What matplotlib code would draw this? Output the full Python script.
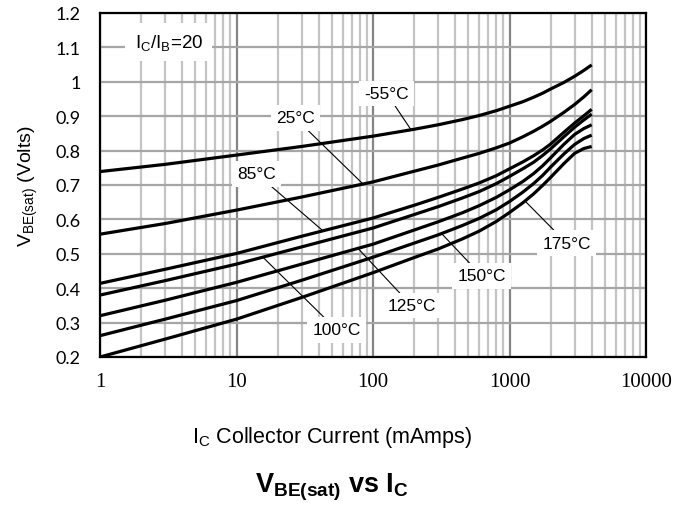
import numpy as np
import matplotlib
matplotlib.use("Agg")
import matplotlib.pyplot as plt

plt.rcParams['font.family'] = ['Liberation Sans', 'DejaVu Sans']
plt.rcParams['mathtext.fontset'] = 'custom'
plt.rcParams['mathtext.rm'] = 'Liberation Sans'
plt.rcParams['mathtext.it'] = 'Liberation Sans:italic'
plt.rcParams['mathtext.bf'] = 'Liberation Sans:bold'

# collector current (mA) and V_BE(sat) per junction temperature
ic_ma = [1, 3, 10, 30, 100, 200, 300, 450, 600, 800, 1000, 1250, 1500, 1750,
         2000, 2500, 3000, 3500, 4000]

vbe_m55 = [0.739, 0.760, 0.787, 0.812, 0.842, 0.862, 0.875, 0.890, 0.902, 0.916,
           0.929, 0.942, 0.955, 0.967, 0.979, 0.998, 1.016, 1.033, 1.049]
vbe_25 = [0.557, 0.588, 0.627, 0.665, 0.709, 0.740, 0.758, 0.778, 0.792, 0.808,
          0.822, 0.840, 0.856, 0.871, 0.885, 0.911, 0.934, 0.956, 0.977]
vbe_85 = [0.414, 0.455, 0.501, 0.551, 0.604, 0.641, 0.664, 0.688, 0.706, 0.727,
          0.747, 0.767, 0.785, 0.802, 0.819, 0.853, 0.880, 0.901, 0.920]
vbe_100 = [0.380, 0.422, 0.470, 0.520, 0.575, 0.614, 0.637, 0.662, 0.681, 0.704,
           0.725, 0.747, 0.766, 0.786, 0.805, 0.840, 0.868, 0.889, 0.906]
vbe_125 = [0.320, 0.365, 0.417, 0.470, 0.528, 0.569, 0.593, 0.619, 0.640, 0.664,
           0.686, 0.710, 0.733, 0.756, 0.779, 0.818, 0.847, 0.864, 0.875]
vbe_150 = [0.262, 0.310, 0.364, 0.423, 0.490, 0.531, 0.555, 0.582, 0.603, 0.628,
           0.652, 0.679, 0.704, 0.728, 0.752, 0.790, 0.818, 0.835, 0.845]
vbe_175 = [0.200, 0.252, 0.310, 0.373, 0.445, 0.489, 0.514, 0.543, 0.566, 0.594,
           0.620, 0.648, 0.674, 0.699, 0.722, 0.762, 0.792, 0.806, 0.812]

curves = [vbe_m55, vbe_25, vbe_85, vbe_100, vbe_125, vbe_150, vbe_175]
temp_labels = ['-55°C', '25°C', '85°C', '100°C', '125°C', '150°C', '175°C']
# where each label sits (x, y) and where its leader touches the curve (x)
label_pos = [(126, 0.966), (26.9, 0.895), (14.1, 0.732), (54.2, 0.279),
             (192, 0.349), (625, 0.436), (2624, 0.531)]
leader_x = [190, 84.5, 43, 15.6, 77.6, 318, 1299]

x_ticks = [1, 10, 100, 1000, 10000]
y_ticks = [0.2, 0.3, 0.4, 0.5, 0.6, 0.7, 0.8, 0.9, 1.0, 1.1, 1.2]
y_ticklabels = ['0.2', '0.3', '0.4', '0.5', '0.6', '0.7', '0.8', '0.9', '1', '1.1', '1.2']

fig = plt.figure(figsize=(6.74, 5.10), dpi=100)
ax = fig.add_axes([100 / 674, 1 - 358 / 510, 546 / 674, 344 / 510])

ax.set_xscale('log')
ax.set_xlim(1, 10000)
ax.set_ylim(0.2, 1.2)

# grid: light minor decades, darker decade lines, gray horizontals
ax.set_axisbelow(True)
ax.grid(True, which='minor', axis='x', color='#c4c4c4', lw=1.6)
ax.grid(True, which='major', axis='x', color='#858585', lw=1.6)
ax.grid(True, which='major', axis='y', color='#a6a6a6', lw=1.6)

for v in curves:
    ax.plot(ic_ma, v, color='black', lw=2.3, solid_capstyle='butt', zorder=2)

log_ic = np.log10(ic_ma)
for v, txt, pos, lx in zip(curves, temp_labels, label_pos, leader_x):
    ly = np.interp(np.log10(lx), log_ic, v)
    ax.annotate(txt, xy=(lx, ly), xytext=pos, ha='center', va='center',
                fontsize=12.5, zorder=4,
                bbox=dict(boxstyle='square,pad=0.3', fc='white', ec='none'),
                arrowprops=dict(arrowstyle='-', color='black', lw=0.8,
                                shrinkA=0, shrinkB=0))

ax.text(3.2, 1.116, r'I$_\mathregular{C}$/I$_\mathregular{B}$=20', ha='center', va='center',
        fontsize=13.5, zorder=4,
        bbox=dict(boxstyle='square,pad=0.5', fc='white', ec='none'))

ax.set_xticks(x_ticks)
ax.set_xticklabels([str(t) for t in x_ticks], fontfamily='Liberation Serif', fontsize=15)
ax.set_yticks(y_ticks)
ax.set_yticklabels(y_ticklabels, fontfamily='Lato', fontsize=13)
ax.tick_params(axis='both', which='both', length=0)
ax.tick_params(axis='x', pad=11)
ax.tick_params(axis='y', pad=14)

for s in ax.spines.values():
    s.set_linewidth(1.6)
    s.set_color('black')

ax.set_ylabel(r'V$_\mathregular{BE(sat)}$ (Volts)', fontsize=14, labelpad=11)

fig.text(332 / 674, 1 - 438 / 510, r'I$_\mathregular{C}$ Collector Current (mAmps)',
         ha='center', va='center', fontsize=15.5)
fig.text(332 / 674, 1 - 487 / 510, r'$\mathbf{V_{BE(sat)}\ vs\ I_C}$',
         ha='center', va='center', fontsize=19.5)

fig.savefig('out.png', dpi=100)
